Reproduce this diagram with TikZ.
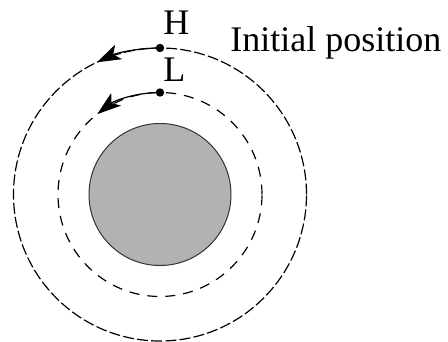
\documentclass[tikz,border=0pt]{standalone}
\usepackage{fontspec}
\setmainfont{Liberation Serif}
\usetikzlibrary{arrows.meta}
\tikzset{planet/.style = {draw = black!80, fill = black!30, line width = 0.5pt}}
\tikzset{orbithigh/.style = {draw, line width = 0.6pt, dash pattern = on 5.5pt off 1.6pt}}
\tikzset{orbitlow/.style = {draw, line width = 0.6pt, dash pattern = on 5pt off 4pt}}
\tikzset{dot/.style = {shape = circle, fill, inner sep = 0pt, minimum size = 4.2pt}}
\tikzset{txt/.style = {inner sep = 0pt, anchor = base west, font = \fontsize{18}{20}\selectfont}}
\tikzset{move/.style = {line width = 0.6pt, -{Stealth[length = 12pt, width = 8pt, inset = 3pt]}}}

\begin{document}
\begin{tikzpicture}[x = 0.5pt, y = 0.5pt]
	\useasboundingbox (-160, -147) rectangle (288, 194.5);

	\fill[planet] (0, 0) circle[radius = 71];
	\draw[orbitlow] (0, 0) circle[radius = 102];
	\draw[orbithigh] (0, 0) circle[radius = 146.5];

	\node[dot] (H) at (90:146.5) {};
	\node[dot] (L) at (90:102) {};

	\node[txt] (Hlab) at (3, 159.5) {H};
	\node[txt] (Llab) at (3, 112.5) {L};
	\node[txt] (start) at (70, 142.5) {Initial position};

	\draw[move] (H.center) arc[start angle = 90, end angle = 115.5, radius = 146.5];
	\draw[move] (L.center) arc[start angle = 90, end angle = 128, radius = 102];
\end{tikzpicture}
\end{document}
